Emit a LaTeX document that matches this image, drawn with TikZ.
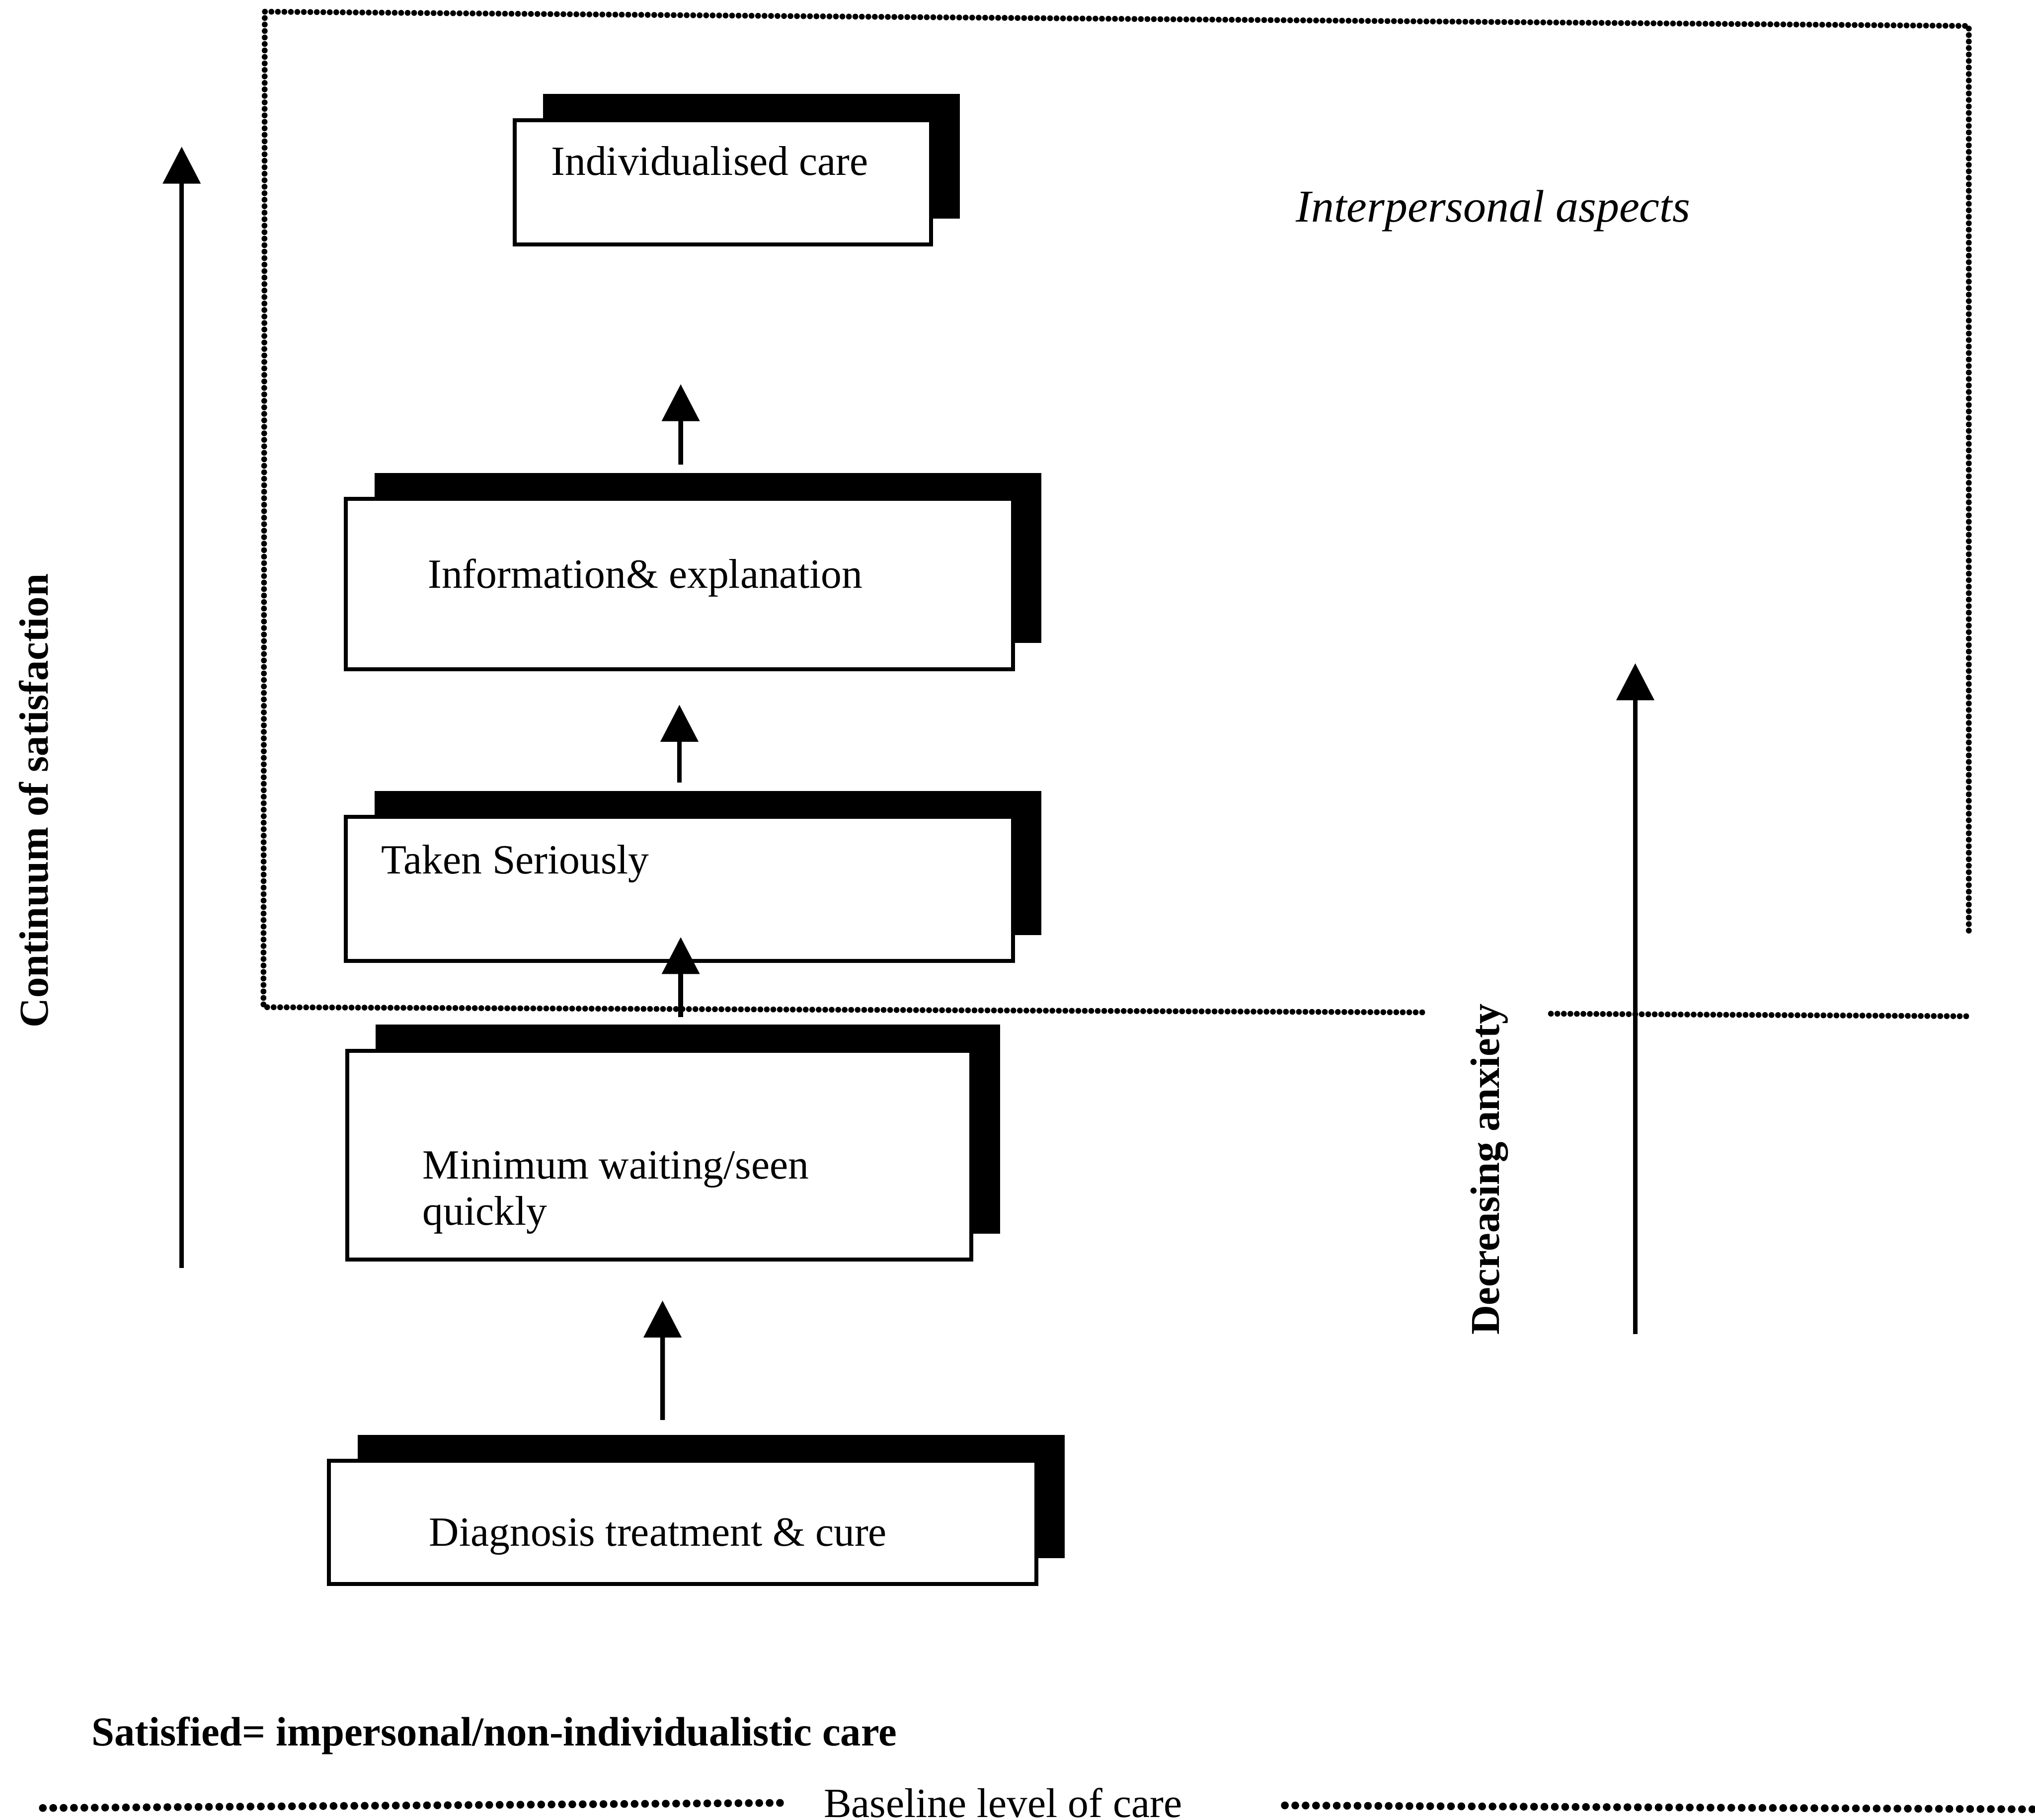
\documentclass[tikz,border=0pt]{standalone}
\usepackage{fontspec}
\setmainfont{Liberation Serif}
\usetikzlibrary{arrows.meta,shadows,positioning}

\begin{document}
\begin{tikzpicture}[x=0.1mm, y=-0.1mm,
  stage/.style={draw, line width=0.3mm, fill=white, inner sep=0pt, anchor=north west,
    drop shadow={shadow xshift=2.2mm, shadow yshift=2mm, fill=black, opacity=1}},
  stagetext/.style={inner sep=0pt, anchor=base west, align=left, font=\fontsize{9.1}{10.2}\selectfont},
  sidetext/.style={inner sep=0pt, font=\fontsize{9}{10}\selectfont\bfseries},
  up/.style={-{Triangle[width=2.85mm, length=2.85mm]}, line width=0.36mm},
  frameline/.style={line width=0.45mm, line cap=round, dash pattern=on 0pt off 0.5mm},
  levelline/.style={line width=0.6mm, line cap=round, dash pattern=on 0pt off 0.8mm}]
  \useasboundingbox (0,0) rectangle (1568,1402);

  % dotted frame round the interpersonal part
  \draw[frameline] (1517,717) -- (1517,20) -- (204,9) -- (203,776) -- (1098,780);
  \draw[frameline] (1195,781) -- (1519,783);

  \node[stage, minimum width=32.1mm, minimum height=9.6mm] (care) at (395,91) {};
  \node[stage, minimum width=51.4mm, minimum height=13.1mm] (info) at (265,383) {};
  \node[stage, minimum width=51.4mm, minimum height=11.1mm] (serious) at (265,628) {};
  \node[stage, minimum width=48.1mm, minimum height=16.1mm] (wait) at (266,808) {};
  \node[stage, minimum width=54.5mm, minimum height=9.5mm] (diag) at (252,1124) {};

  \node[stagetext] (care-l) at ([shift={(29,44)}]care.north west) {Individualised care};
  \node[stagetext] (info-l) at ([shift={(64,70)}]info.north west) {Information\& explanation};
  \node[stagetext] (serious-l) at ([shift={(28,45)}]serious.north west) {Taken Seriously};
  \node[stagetext] (wait-l) at ([shift={(59,136)}]wait.north west) {Minimum waiting/seen\\quickly};
  \node[stagetext] (diag-l) at ([shift={(78,67)}]diag.north west) {Diagnosis treatment \& cure};

  \draw[up, shorten <=3mm, shorten >=3mm] ([xshift=-1.55mm]diag.north) -- ([xshift=0.25mm]wait.south);
  \draw[up, shorten <=2.45mm, shorten >=-2mm] ([xshift=1.65mm]wait.north) -- ([xshift=0.1mm]serious.south);
  \draw[up, shorten <=2.5mm, shorten >=2.6mm] (serious.north) -- (info.south);
  \draw[up, shorten <=2.5mm, shorten >=10.6mm] ([xshift=0.1mm]info.north) -- ([xshift=-3.25mm]care.south);

  \coordinate (sat-low) at (140,977);
  \coordinate (sat-high) at (140,113);
  \coordinate (anx-low) at (1260,1028);
  \coordinate (anx-high) at (1260,511);
  \draw[up] (sat-low) -- (sat-high);
  \draw[up] (anx-low) -- (anx-high);

  \node[sidetext, rotate=90, anchor=base] (sat-l) at (37,617) {Continuum of satisfaction};
  \node[sidetext, rotate=90, anchor=base] (anx-l) at (1155,901) {Decreasing anxiety};
  \node[inner sep=0pt, anchor=base west, font=\fontsize{10}{12}\selectfont\itshape] (inter-l) at (998,171) {Interpersonal aspects};

  \node[sidetext, anchor=base west] (note-l) at (70,1345) {Satisfied= impersonal/non-individualistic care};
  \node[stagetext] (base-l) at (634,1400) {Baseline level of care};
  \draw[levelline] (33,1393) -- (607,1389);
  \draw[levelline] (990,1391) -- (1566,1394);
\end{tikzpicture}
\end{document}
